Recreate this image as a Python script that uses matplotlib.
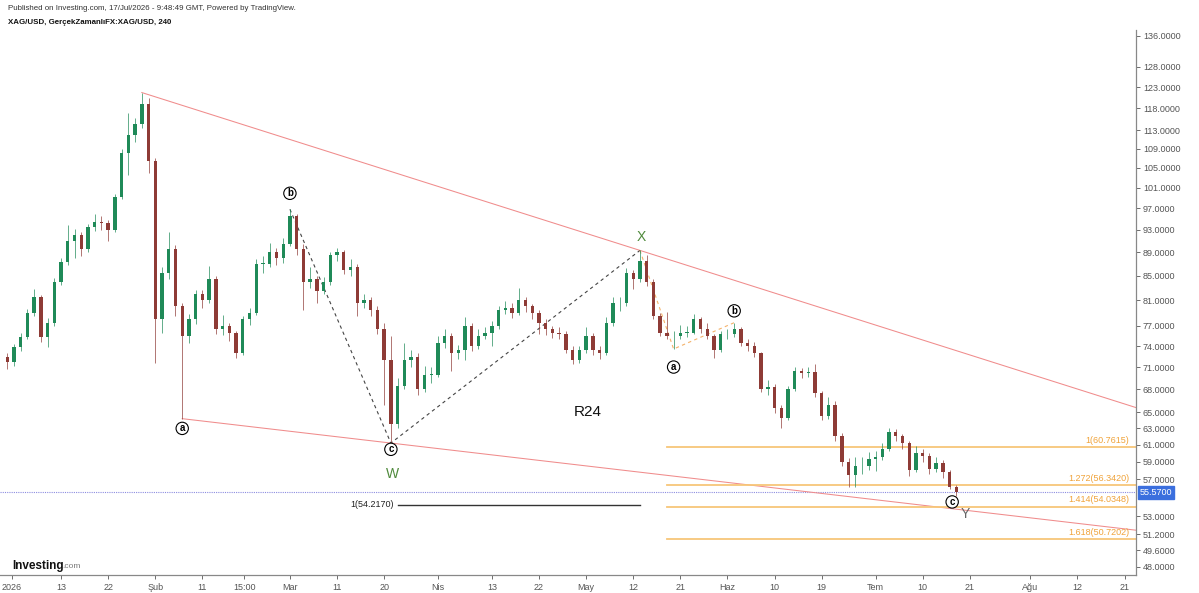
import matplotlib
matplotlib.use("Agg")
import matplotlib.pyplot as plt
import matplotlib.transforms as mtransforms
import numpy as np

plt.rcParams['font.family'] = ['Liberation Sans', 'DejaVu Sans']

# daily bars, index 0 = 2 Jan 2026 (trading days only)
first_day = -1
first_open = 72.5
closes = [71.7, 73.9, 75.4, 79.0, 81.5, 75.4, 77.5, 84.0, 87.3, 91.0,
          92.0, 89.5, 93.5, 94.5, 94.3, 93.0, 99.2, 108.0, 112.0, 114.5,
          119.0, 106.5, 78.0, 85.5, 89.5, 80.0, 75.5, 78.0, 82.0, 81.0,
          84.5, 76.5, 77.0, 76.0, 73.0, 78.0, 79.0, 87.0, 87.0, 89.0,
          88.0, 90.5, 95.5, 89.5, 84.0, 84.5, 82.5, 84.0, 88.5, 89.0,
          86.0, 86.5, 80.5, 81.0, 79.5, 76.5, 72.0, 63.5, 68.5, 72.0,
          72.5, 68.0, 70.0, 70.0, 74.5, 75.5, 73.0, 73.5, 77.0, 74.0,
          75.5, 76.0, 77.0, 79.5, 79.8, 79.0, 81.0, 80.0, 79.0, 77.5,
          76.5, 76.0, 75.8, 73.5, 72.0, 73.5, 75.5, 73.5, 73.0, 77.5,
          80.5, 80.5, 85.5, 84.5, 87.5, 84.0, 78.5, 76.0, 75.5, 75.5,
          76.0, 76.0, 78.0, 76.5, 75.5, 73.5, 75.8, 75.8, 76.5, 74.5,
          74.0, 73.0, 68.0, 68.3, 65.5, 64.3, 68.0, 70.5, 70.2, 70.3,
          67.5, 64.5, 66.0, 62.0, 59.0, 57.5, 58.5, 58.5, 59.3, 59.5,
          60.5, 62.5, 62.0, 61.2, 58.0, 60.0, 59.7, 58.2, 58.8, 57.8,
          56.2, 55.57]
highs = [73.0, 74.3, 76.0, 79.6, 82.8, 81.9, 78.2, 84.6, 88.0, 93.9,
         93.2, 92.6, 94.0, 96.0, 95.5, 94.8, 99.8, 109.0, 117.0, 115.8,
         121.7, 120.5, 107.0, 86.5, 92.6, 90.3, 80.5, 78.8, 82.6, 82.7,
         86.6, 85.0, 78.6, 77.5, 76.3, 78.5, 79.7, 87.8, 88.3, 90.6,
         89.7, 91.5, 96.8, 96.0, 90.5, 86.5, 85.0, 84.8, 89.0, 89.8,
         89.3, 87.8, 87.0, 82.0, 81.5, 80.0, 77.5, 75.5, 69.5, 74.5,
         73.5, 73.0, 71.2, 71.0, 75.5, 76.5, 76.0, 74.2, 78.3, 77.5,
         76.5, 76.8, 77.8, 80.0, 80.8, 80.5, 83.0, 81.5, 80.4, 79.5,
         78.0, 77.0, 76.8, 76.2, 74.0, 74.0, 76.8, 76.0, 74.0, 78.3,
         81.5, 81.5, 86.3, 86.0, 89.3, 88.5, 84.5, 79.0, 79.2, 76.3,
         77.2, 77.0, 78.8, 78.3, 77.5, 75.8, 76.3, 76.6, 77.5, 76.8,
         75.0, 74.6, 73.2, 69.2, 68.7, 66.0, 68.5, 71.0, 70.9, 71.0,
         71.5, 67.8, 67.0, 66.4, 62.4, 59.4, 59.5, 59.6, 60.1, 60.3,
         61.2, 63.0, 62.9, 62.3, 61.5, 60.8, 60.5, 60.0, 59.5, 59.2,
         58.0, 56.4]
lows = [70.8, 71.2, 73.3, 75.0, 78.5, 74.6, 73.9, 77.0, 83.5, 86.8,
        88.0, 88.3, 89.0, 92.8, 93.0, 91.0, 92.6, 98.7, 103.5, 110.5,
        113.5, 104.0, 71.6, 76.0, 84.5, 78.5, 64.2, 74.5, 77.3, 79.8,
        80.5, 75.8, 75.6, 74.8, 72.3, 72.7, 77.2, 78.6, 85.5, 86.5,
        86.8, 87.2, 90.0, 88.5, 79.5, 83.0, 80.5, 82.0, 83.5, 87.5,
        85.3, 85.0, 78.5, 79.8, 78.5, 75.8, 66.0, 61.2, 63.0, 68.0,
        71.0, 67.2, 67.6, 68.8, 69.6, 73.8, 70.5, 72.2, 72.0, 73.3,
        73.6, 75.0, 74.0, 76.6, 78.8, 78.2, 78.7, 79.2, 78.0, 75.8,
        75.6, 75.2, 75.0, 73.0, 71.4, 71.6, 73.0, 72.8, 72.2, 72.8,
        77.0, 79.3, 80.0, 82.8, 84.0, 83.2, 78.0, 75.5, 75.0, 73.6,
        75.0, 75.3, 75.8, 76.0, 75.0, 72.3, 73.2, 75.0, 75.4, 74.0,
        73.3, 72.4, 67.6, 67.2, 64.9, 63.0, 64.0, 67.8, 69.5, 69.6,
        67.0, 64.0, 64.2, 61.5, 58.5, 56.2, 56.2, 57.6, 58.0, 57.9,
        59.2, 60.2, 61.5, 60.5, 57.4, 57.8, 59.0, 57.6, 57.8, 57.2,
        55.9, 55.2]

# time axis labels (Turkish month names as in the chart), positions in trading days
x_tick_pos = [-0.3, 7, 14, 21, 28, 34.2, 41, 48, 55, 63, 71, 78, 85, 92, 99,
              106, 113, 120, 128, 135, 142, 151, 158, 165]
x_tick_labels = ['2026', '13', '22', 'Şub', '11', '15:00', 'Mar', '11', '20',
                 'Nis', '13', '22', 'May', '12', '21', 'Haz', '10', '19', 'Tem',
                 '10', '21', 'Ağu', '12', '21']
y_ticks = [136, 128, 123, 118, 113, 109, 105, 101, 97, 93, 89, 85, 81, 77, 74,
           71, 68, 65, 63, 61, 59, 57, 53, 51.2, 49.6, 48]

# fibonacci extension drawn from the "a" of the last leg
fib_ratios = ['1', '1.272', '1.414', '1.618']
fib_levels = [60.7615, 56.3420, 54.0348, 50.7202]
fib_start = 97
ref_level = 54.2170
ref_span = (57, 93)

# wave pivots: (day, kind)
top_pivot = (19, 'high')
x_pivot = (93, 'high')
a_pivot = (25, 'low')
c_pivot = (56, 'low')
b_pivot = (41, 'high')
a2_pivot = (98, 'low')
b2_pivot = (107, 'high')

green = '#1f8a58'
red = '#8e3b36'

closes = np.array(closes)
highs = np.array(highs)
lows = np.array(lows)
opens = np.concatenate([[first_open], closes[:-1]])
days = np.arange(first_day, first_day + len(closes))


def pivot(p):
    d, kind = p
    arr = highs if kind == 'high' else lows
    return d, arr[d - first_day]


fig = plt.figure(figsize=(11.99, 5.93), dpi=100)
ax = fig.add_axes([0.0, 0.0304, 0.9475, 0.9191])
ax.set_yscale('log')
ax.set_xlim(-2.07, 166.7)
ax.set_ylim(47.25, 137.6)

# candles
up = closes >= opens
cols = np.where(up, green, red)
ax.vlines(days, lows, highs, colors=cols, lw=0.7, alpha=0.7, zorder=3)
ax.bar(days, np.maximum(np.abs(closes - opens), 0.05), bottom=np.minimum(opens, closes),
       width=0.5, color=cols, linewidth=0, zorder=4)

x0, x1 = ax.get_xlim()

# channel lines (straight on the log scale)
for p1, p2 in [(top_pivot, x_pivot), (a_pivot, c_pivot)]:
    d1, v1 = pivot(p1)
    d2, v2 = pivot(p2)
    slope = (np.log(v2) - np.log(v1)) / (d2 - d1)
    xs = np.array([d1, x1])
    ax.plot(xs, np.exp(np.log(v1) + slope * (xs - d1)), color='#f08c8c', lw=0.75, zorder=2)

# wave legs
leg = [pivot(b_pivot), pivot(c_pivot), pivot(x_pivot)]
ax.plot([p[0] for p in leg], [p[1] for p in leg], color='#444444', lw=0.8,
        ls=(0, (3, 3)), zorder=2)
leg2 = [pivot(x_pivot), pivot(a2_pivot), pivot(b2_pivot)]
ax.plot([p[0] for p in leg2], [p[1] for p in leg2], color='#f4b26a', lw=0.8,
        ls=(0, (3, 3)), zorder=2)

# fib levels
for r, lv in zip(fib_ratios, fib_levels):
    ax.plot([fib_start, x1], [lv, lv], color='#f7c679', lw=1.3, zorder=2)
    ax.annotate(f'{r}({lv:.4f})', xy=(x1, lv), xytext=(-5, 1.5), textcoords='offset points',
                ha='right', va='bottom', fontsize=6.5, color='#f0a33a')

ax.plot(ref_span, [ref_level, ref_level], color='#333333', lw=1.0, zorder=2)
ax.annotate(f'1({ref_level:.4f})', xy=(ref_span[0], ref_level), xytext=(-3, 0),
            textcoords='offset points', ha='right', va='center', fontsize=6.5, color='#222222')

# last price line + tag
last = closes[-1]
ax.axhline(last, color='#8c8ce0', lw=0.8, ls=(0, (1, 1)), zorder=1)
tr = mtransforms.blended_transform_factory(ax.transAxes, ax.transData)
ax.text(1.003, last, f'{last:.4f}', transform=tr, ha='left', va='center', fontsize=6.5,
        color='white', bbox=dict(boxstyle='square,pad=0.2', fc='#3b6fde', ec='#3b6fde'),
        clip_on=False, zorder=10)

# circled wave letters
circ = dict(boxstyle='circle,pad=0.12', fc='white', ec='black', lw=0.8)
for p, letter, dx, dy in [(a_pivot, 'a', 0, -7), (b_pivot, 'b', 0, 11.5),
                          (c_pivot, 'c', 0, -4.5), (a2_pivot, 'a', 0, -13),
                          (b2_pivot, 'b', 0, 8.5), ((140, 'low'), 'c', -3, -4.5)]:
    ax.annotate(letter, xy=pivot(p), xytext=(dx, dy), textcoords='offset points',
                ha='center', va='center', fontsize=7, fontweight='bold', bbox=circ, zorder=8)

ax.annotate('W', xy=pivot(c_pivot), xytext=(1, -22), textcoords='offset points',
            ha='center', va='center', fontsize=10, color='#4f8a3c')
ax.annotate('X', xy=pivot(x_pivot), xytext=(1, 9.5), textcoords='offset points',
            ha='center', va='center', fontsize=10, color='#4f8a3c')
ax.annotate('Y', xy=pivot((140, 'low')), xytext=(6.5, -13), textcoords='offset points',
            ha='center', va='center', fontsize=10, color='#666666')
ax.text(0.517, 0.299, 'R24', transform=ax.transAxes, ha='center', va='center',
        fontsize=11, color='#111111')

# axes styling
ax.set_yticks(y_ticks)
ax.set_yticklabels([f'{t:.4f}' for t in y_ticks])
ax.yaxis.set_minor_locator(matplotlib.ticker.NullLocator())
ax.yaxis.tick_right()
ax.set_xticks(x_tick_pos)
ax.set_xticklabels(x_tick_labels)
ax.tick_params(axis='both', labelsize=6.5, colors='#555555', length=3, width=0.6, pad=3)
ax.tick_params(axis='y', pad=2)
for s in ['left', 'top']:
    ax.spines[s].set_visible(False)
for s in ['right', 'bottom']:
    ax.spines[s].set_color('#888888')
    ax.spines[s].set_linewidth(0.9)

# header and logo
fig.text(8 / 1199, 1 - 9 / 593, 'Published on Investing.com, 17/Jul/2026 - 9:48:49 GMT, Powered by TradingView.',
         fontsize=5.7, color='#333333', va='center')
fig.text(8 / 1199, 1 - 22 / 593, 'XAG/USD, GerçekZamanlıFX:XAG/USD, 240',
         fontsize=5.7, fontweight='bold', color='#111111', va='center')
fig.text(12 / 1199, 1 - 566 / 593, 'Investing', fontsize=8.5, fontweight='bold',
         color='#111111', va='center')
fig.text(62 / 1199, 1 - 567 / 593, '.com', fontsize=6, color='#777777', va='center')

fig.savefig('out.png', dpi=100)
